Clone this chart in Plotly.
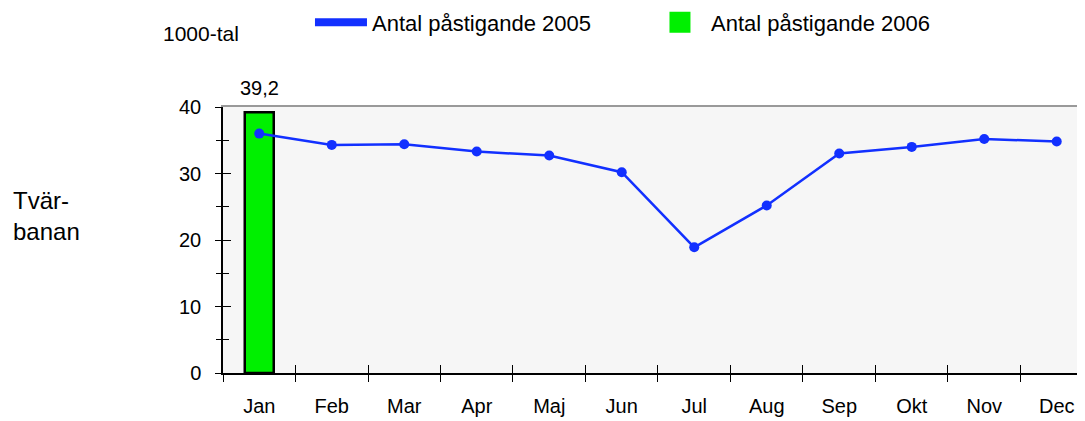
import plotly.graph_objects as go

# Månadsdata, Tvärbanan (1000-tal)
months = ["Jan", "Feb", "Mar", "Apr", "Maj", "Jun", "Jul", "Aug", "Sep", "Okt", "Nov", "Dec"]
boardings_2005 = [36.0, 34.3, 34.4, 33.3, 32.7, 30.2, 18.9, 25.2, 33.0, 34.0, 35.2, 34.8]
months_2006 = ["Jan"]
boardings_2006 = [39.2]

name_2005 = "Antal påstigande 2005"
name_2006 = "Antal påstigande 2006"

BLUE = "#1230FF"
GREEN = "#00F000"
FONT = "Liberation Sans, Arial, sans-serif"

# the page body adds an 8px margin, so the figure is made 8px smaller
PAGE_OFFSET = 8

fig = go.Figure()

fig.add_trace(go.Bar(
    x=months_2006, y=boardings_2006, width=0.4,
    marker=dict(color=GREEN, line=dict(color="black", width=2.5)),
    showlegend=False, hoverinfo="skip",
))
fig.add_trace(go.Scatter(
    x=months, y=boardings_2005, mode="lines+markers",
    line=dict(color=BLUE, width=2.5), marker=dict(color=BLUE, size=10),
    showlegend=False,
))

# legend-only entries (bigger swatches than the real marks)
fig.add_trace(go.Scatter(
    x=[None], y=[None], mode="lines", name=name_2005,
    line=dict(color=BLUE, width=8),
))
fig.add_trace(go.Scatter(
    x=[None], y=[None], mode="markers", name=name_2006,
    marker=dict(symbol="square", color=GREEN, size=16, line=dict(color=GREEN, width=5)),
))

# invisible copies so the overlay axes (inner tick halves, grey top line) get drawn
fig.add_trace(go.Scatter(
    x=months, y=boardings_2005, mode="markers", xaxis="x2", yaxis="y2",
    marker=dict(opacity=0), showlegend=False, hoverinfo="skip",
))
fig.add_trace(go.Scatter(
    x=months, y=boardings_2005, mode="markers", xaxis="x3", yaxis="y",
    marker=dict(opacity=0), showlegend=False, hoverinfo="skip",
))

for v in boardings_2006:
    fig.add_annotation(
        x=months_2006[0], y=v, text=f"{v:.1f}".replace(".", ","),
        showarrow=False, yanchor="bottom", yshift=11,
        font=dict(family=FONT, size=20, color="black"),
    )

fig.add_annotation(
    x=-0.246, y=0.589, xref="paper", yref="paper", xanchor="left", yanchor="middle",
    align="left", text="Tvär-<br>banan", showarrow=False,
    font=dict(family=FONT, size=24, color="black"),
)
fig.add_annotation(
    x=-0.0258, y=1.277, xref="paper", yref="paper", xanchor="center", yanchor="middle",
    text="1000-tal", showarrow=False,
    font=dict(family=FONT, size=21, color="black"),
)

x_common = dict(type="category", categoryorder="array", categoryarray=months,
                range=[-0.5, 11.39], tickson="boundaries", showgrid=False)

fig.update_layout(
    width=1085 - PAGE_OFFSET, height=421 - PAGE_OFFSET,
    margin=dict(l=223 - PAGE_OFFSET, r=0, t=107 - PAGE_OFFSET, b=48, autoexpand=False),
    paper_bgcolor="white", plot_bgcolor="#F6F6F6",
    font=dict(family=FONT, size=20, color="black"),
    xaxis=dict(**x_common, showline=True, linecolor="black", linewidth=1.5,
               ticks="outside", ticklen=7, tickcolor="black", tickwidth=1.2,
               ticklabelstandoff=14),
    xaxis2=dict(**x_common, overlaying="x", anchor="y2", side="bottom",
                ticks="inside", ticklen=8, tickcolor="black", tickwidth=1.2,
                showticklabels=False, showline=False),
    xaxis3=dict(**x_common, overlaying="x", anchor="y", side="top", showline=True,
                linecolor="#999999", linewidth=2, ticks="", showticklabels=False),
    yaxis=dict(range=[0, 40], dtick=10, showgrid=False, zeroline=False,
               showline=True, linecolor="black", linewidth=1.5,
               ticks="outside", ticklen=6, tickcolor="black", tickwidth=1.2,
               minor=dict(dtick=5, ticks="outside", ticklen=5, tickcolor="black", showgrid=False),
               ticklabelstandoff=10),
    yaxis2=dict(range=[0, 40], dtick=10, overlaying="y", showgrid=False, zeroline=False,
                showline=False, showticklabels=False,
                ticks="inside", ticklen=8, tickcolor="black", tickwidth=1.2,
                minor=dict(dtick=5, ticks="inside", ticklen=6, tickcolor="black", showgrid=False)),
    legend=dict(orientation="h", x=0.1009, y=1.318, xanchor="left", yanchor="middle",
                itemwidth=52, entrywidth=272, font=dict(family=FONT, size=22),
                bgcolor="rgba(0,0,0,0)"),
)

fig.write_html("out.html")
